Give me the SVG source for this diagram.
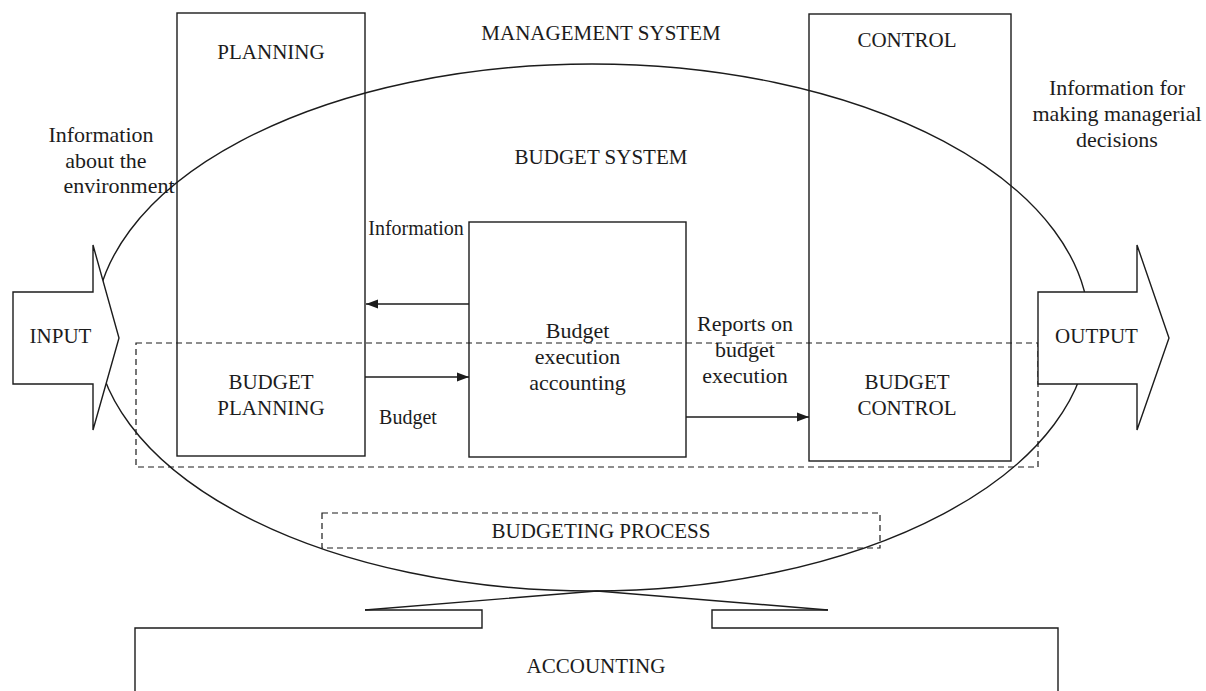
<svg xmlns="http://www.w3.org/2000/svg" width="1206" height="691" viewBox="0 0 1206 691">
<style>
.ln{fill:none;stroke:#1c1c1c;stroke-width:1.4}
.wf{fill:#fff;stroke:#1c1c1c;stroke-width:1.4}
.ds{fill:none;stroke:#1c1c1c;stroke-width:1.2;stroke-dasharray:6 4}
text{font-family:"Liberation Serif","Times New Roman",serif;fill:#1c1c1c;font-size:21px;text-anchor:middle}
.sm{font-size:20px}
.md{font-size:22px}
</style>
<defs>
<marker id="ah" viewBox="0 0 12 10" refX="12" refY="5" markerWidth="12" markerHeight="10" markerUnits="userSpaceOnUse" orient="auto">
<path d="M0,0.5 L12,5 L0,9.5 z" fill="#1c1c1c"/>
</marker>
</defs>
<rect width="1206" height="691" fill="#fff"/>
<g id="management-system">
<text x="601" y="40">MANAGEMENT SYSTEM</text>
</g>
<g id="budget-system">
<ellipse class="ln" cx="592" cy="327.5" rx="497" ry="263.5"/>
<text x="601" y="164">BUDGET SYSTEM</text>
</g>
<g id="planning">
<rect class="ln" x="177" y="13" width="188" height="443"/>
<text x="271" y="59">PLANNING</text>
<text x="271" y="389">BUDGET</text>
<text x="271" y="415">PLANNING</text>
</g>
<g id="control">
<rect class="ln" x="809" y="14" width="202" height="447"/>
<text x="907" y="47">CONTROL</text>
<text x="907" y="389">BUDGET</text>
<text x="907" y="415">CONTROL</text>
</g>
<g id="budgeting-process">
<rect class="ds" x="136" y="343" width="902" height="124"/>
<rect class="ds" x="322" y="513" width="558" height="35"/>
<text x="601" y="538">BUDGETING PROCESS</text>
</g>
<g id="budget-execution-accounting">
<rect class="ln" x="469" y="222" width="217" height="235"/>
<text class="md" x="577.5" y="338">Budget</text>
<text class="md" x="577.5" y="364">execution</text>
<text class="md" x="577.5" y="390">accounting</text>
</g>
<g id="input">
<path class="wf" d="M13,292 H93 V245 L119,338 L93,430 V384 H13 Z"/>
<text x="60.5" y="343">INPUT</text>
<text class="md" x="101" y="142">Information</text>
<text class="md" x="106" y="168">about the</text>
<text class="md" x="119" y="193">environment</text>
</g>
<g id="output">
<path class="wf" d="M1038,292 H1137 V245 L1169,338 L1137,430 V384 H1038 Z"/>
<text x="1096.5" y="343">OUTPUT</text>
<text class="md" x="1117" y="95">Information for</text>
<text class="md" x="1117" y="121">making managerial</text>
<text class="md" x="1117" y="147">decisions</text>
</g>
<g id="accounting">
<path class="ln" d="M365,610 L597,591 L828,610"/>
<path class="ln" d="M365,610 H482 V628 H135 V691"/>
<path class="ln" d="M828,610 H712 V628 H1058 V691"/>
<text x="596" y="673">ACCOUNTING</text>
</g>
<g id="connectors">
<line class="ln" x1="469" y1="304" x2="366" y2="304" marker-end="url(#ah)"/>
<text class="sm" x="416" y="235">Information</text>
<line class="ln" x1="365" y1="377" x2="469" y2="377" marker-end="url(#ah)"/>
<text class="sm" x="408" y="424">Budget</text>
<line class="ln" x1="686" y1="417" x2="809" y2="417" marker-end="url(#ah)"/>
<text class="md" x="745" y="331">Reports on</text>
<text class="md" x="745" y="357">budget</text>
<text class="md" x="745" y="383">execution</text>
</g>
</svg>
